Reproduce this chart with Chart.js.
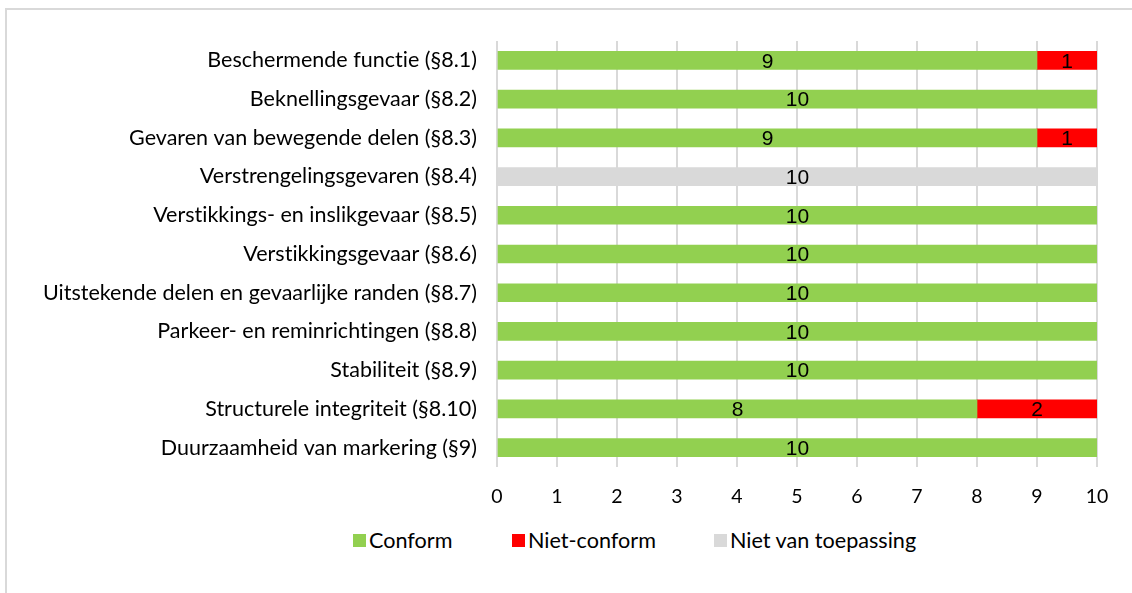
<!DOCTYPE html>
<html><head><meta charset="utf-8">
<script src="https://cdn.jsdelivr.net/npm/chart.js@4.4.0/dist/chart.umd.min.js"></script>
<style>
html,body{margin:0;padding:0;background:#fff;width:1132px;height:593px;overflow:hidden;font-family:Lato,sans-serif}
#frame{position:absolute;left:5px;top:8px;width:1200px;height:700px;border-left:2px solid #D9D9D9;border-top:2px solid #D9D9D9}
#wrap{position:absolute;left:0;top:0;width:1132px;height:520px}
#legend{position:absolute;top:528px;left:0;width:1132px;height:24px;font-size:21.6px;color:#000;font-variant-ligatures:none}
.li{position:absolute;top:0;display:flex;align-items:center;height:24px}
.sw{width:13px;height:13px;margin-right:3px}
</style></head>
<body>
<div id="frame"></div>
<div id="wrap"><canvas id="c" width="1132" height="520"></canvas></div>
<div id="legend"></div>
<script>
const categories = [
  "Beschermende functie (§8.1)",
  "Beknellingsgevaar (§8.2)",
  "Gevaren van bewegende delen (§8.3)",
  "Verstrengelingsgevaren (§8.4)",
  "Verstikkings- en inslikgevaar (§8.5)",
  "Verstikkingsgevaar (§8.6)",
  "Uitstekende delen en gevaarlijke randen (§8.7)",
  "Parkeer- en reminrichtingen (§8.8)",
  "Stabiliteit (§8.9)",
  "Structurele integriteit (§8.10)",
  "Duurzaamheid van markering (§9)"
];
const conform     = [9, 10, 9, 0, 10, 10, 10, 10, 10, 8, 10];
const nietConform = [1, 0, 1, 0, 0, 0, 0, 0, 0, 2, 0];
const nietVanToepassing = [0, 0, 0, 10, 0, 0, 0, 0, 0, 0, 0];
const seriesNames = ["Conform", "Niet-conform", "Niet van toepassing"];
const xTicks = [0,1,2,3,4,5,6,7,8,9,10];

const colors = ["#92D050", "#FF0000", "#D9D9D9"];
const legendPos = [353, 512, 714];

const leg = document.getElementById('legend');
seriesNames.forEach((n,i)=>{
  const d=document.createElement('div'); d.className='li'; d.style.left=legendPos[i]+'px';
  d.innerHTML='<div class="sw" style="background:'+colors[i]+'"></div><span>'+n+'</span>';
  leg.appendChild(d);
});

const noLig = {
  id:'noLig',
  beforeDraw(chart){ try{ chart.ctx.letterSpacing='0.01px'; }catch(e){} }
};

const labelPlugin = {
  id:'barLabels',
  afterDatasetsDraw(chart){
    const ctx=chart.ctx;
    ctx.save();
    ctx.font='21px "Liberation Sans", Arial, sans-serif';
    ctx.fillStyle='#000';
    ctx.textAlign='center';
    ctx.textBaseline='middle';
    chart.data.datasets.forEach((ds,di)=>{
      const meta=chart.getDatasetMeta(di);
      meta.data.forEach((el,i)=>{
        const v=ds.data[i];
        if(!v) return;
        const p=el.getProps(['x','y','base'],true);
        ctx.fillText(String(v),(p.x+p.base)/2,p.y+1.5);
      });
    });
    ctx.restore();
  }
};

const nz = a => a.map(v => v === 0 ? null : v);

function draw(){
  new Chart(document.getElementById('c'),{
    type:'bar',
    data:{labels:categories,datasets:[
      {label:seriesNames[0],data:nz(conform),backgroundColor:colors[0],barThickness:18},
      {label:seriesNames[1],data:nz(nietConform),backgroundColor:colors[1],barThickness:18},
      {label:seriesNames[2],data:nz(nietVanToepassing),backgroundColor:colors[2],barThickness:18}
    ]},
    options:{
      indexAxis:'y',responsive:false,animation:false,
      layout:{padding:{top:41,right:35,left:0,bottom:0}},
      plugins:{legend:{display:false},tooltip:{enabled:false}},
      scales:{
        x:{stacked:true,min:0,max:10,
          afterBuildTicks(s){s.ticks=xTicks.map(v=>({value:v}));},
          afterFit(s){s.height=53;},
          grid:{color:'#D9D9D9',lineWidth:2,drawTicks:false},
          border:{display:false},
          ticks:{padding:18,color:'#000',font:{family:'Lato',size:19.5}}},
        y:{stacked:true,
          afterFit(s){s.width=497;},
          grid:{display:false,drawTicks:false},
          border:{display:false},
          ticks:{padding:20,color:'#000',font:{family:'Lato',size:21.5}}}
      }
    },
    plugins:[noLig,labelPlugin]
  });
}
(document.fonts?document.fonts.load('21px Lato'):Promise.resolve()).then(draw,draw);
</script>
</body></html>
